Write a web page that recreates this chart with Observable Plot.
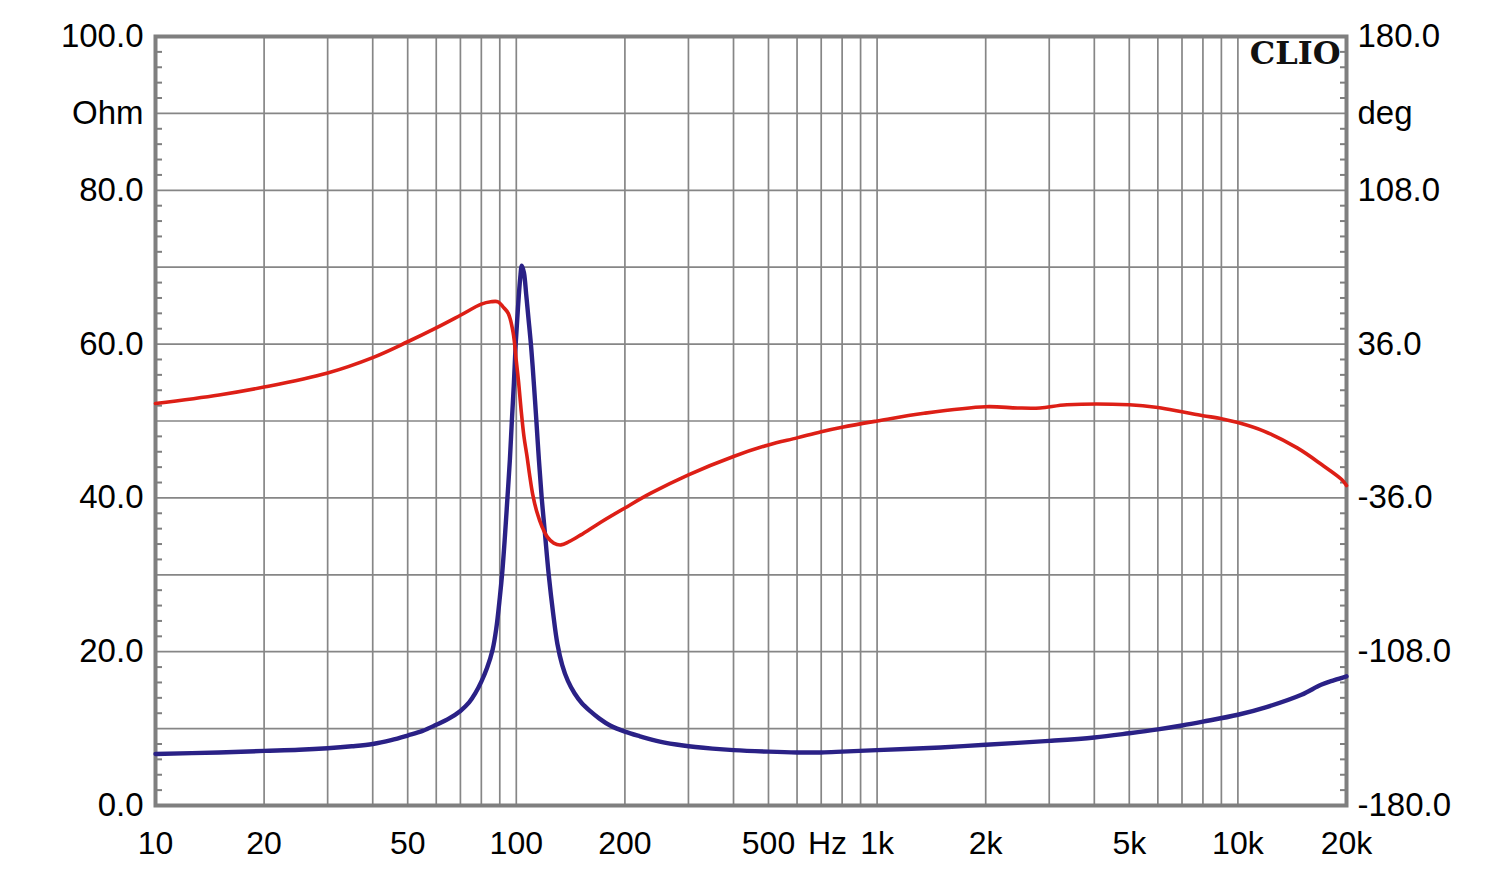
<!DOCTYPE html>
<html>
<head>
<meta charset="utf-8">
<script src="https://cdn.jsdelivr.net/npm/d3@7"></script>
<script src="https://cdn.jsdelivr.net/npm/@observablehq/plot@0.6"></script>
<style>
  html, body { margin: 0; padding: 0; background: #fff; }
  #chart { width: 1500px; height: 877px; }
</style>
</head>
<body>
<div id="chart"></div>
<script>
// ---- Data ----
// Impedance magnitude (Ohm, left axis) - blue curve
const blueFreq = [10, 15, 20, 25, 30, 35, 40, 45, 50, 55, 60, 65, 70, 74, 77, 80, 83, 86, 88, 90, 91.5, 93, 94.5, 96, 97.2, 98.5, 99.6, 101, 102.5, 103.6, 105, 106.5, 108, 110, 112, 113.5, 115.5, 117.6, 120, 123, 126.5, 130, 134, 139, 145, 152, 160, 170, 182, 200, 220, 250, 290, 350, 400, 500, 600, 700, 800, 1000, 1500, 2000, 3000, 4000, 5000, 6000, 7000, 8000, 10000, 12000, 15000, 17000, 18500, 20000];
const blueOhm = [6.7, 6.9, 7.1, 7.25, 7.45, 7.7, 8.0, 8.5, 9.1, 9.7, 10.5, 11.3, 12.3, 13.4, 14.6, 16.1, 17.9, 20.3, 23, 27, 30.5, 35, 40, 45, 50, 55, 60, 64.5, 68.5, 70.2, 69.3, 66.5, 63.5, 59.5, 54.5, 50.5, 45, 40, 35.5, 30, 25, 21, 18.3, 16.2, 14.6, 13.3, 12.3, 11.3, 10.4, 9.6, 9.0, 8.3, 7.8, 7.4, 7.2, 7.0, 6.9, 6.9, 7.0, 7.2, 7.55, 7.9, 8.4, 8.85, 9.4, 9.9, 10.4, 10.9, 11.8, 12.8, 14.4, 15.7, 16.3, 16.8];

// Impedance phase (deg, right axis) - red curve
const redFreq = [10, 15, 20, 30, 40, 50, 60, 70, 80, 85, 89, 92, 95, 98, 100, 101.5, 103, 105, 107, 109, 111, 114, 118, 122, 127, 133, 140, 151, 171, 200, 236, 300, 400, 500, 600, 700, 800, 1000, 1350, 2000, 2450, 2830, 3360, 5000, 6000, 7000, 8000, 9000, 10000, 11800, 14600, 17100, 19400, 20000];
const redDeg = [8.2, 12.2, 15.9, 22.5, 29.7, 37.1, 43.6, 49.5, 54.7, 55.8, 55.8, 53.3, 50.4, 41.4, 28.1, 18, 6.1, -7.2, -16.2, -25.9, -34.2, -42.5, -49.7, -54.4, -57.2, -58, -56.5, -53.3, -47.5, -40.7, -33.8, -25.2, -16.6, -11.2, -7.9, -5, -2.9, 0, 3.6, 6.7, 6.1, 6.1, 7.6, 7.6, 6.3, 4.3, 2.5, 1.1, -0.7, -4.7, -12.6, -20.5, -27.4, -30.2];

// Axis ticks and labels
const freqTicks = [10, 20, 50, 100, 200, 500, 1000, 2000, 5000, 10000, 20000];
const freqLabels = ["10", "20", "50", "100", "200", "500", "1k", "2k", "5k", "10k", "20k"];
const freqUnit = "Hz";
const gridFreqs = [10, 20, 30, 40, 50, 60, 70, 80, 90, 100, 200, 300, 400, 500, 600, 700, 800, 900, 1000, 2000, 3000, 4000, 5000, 6000, 7000, 8000, 9000, 10000, 20000];
const gridOhm = [0, 10, 20, 30, 40, 50, 60, 70, 80, 90, 100];
const minorOhm = [2, 4, 6, 8, 12, 14, 16, 18, 22, 24, 26, 28, 32, 34, 36, 38, 42, 44, 46, 48, 52, 54, 56, 58, 62, 64, 66, 68, 72, 74, 76, 78, 82, 84, 86, 88, 92, 94, 96, 98];
const leftTicks = [0, 20, 40, 60, 80, 90, 100];
const leftLabels = ["0.0", "20.0", "40.0", "60.0", "80.0", "Ohm", "100.0"];
const rightLabels = ["-180.0", "-108.0", "-36.0", "36.0", "108.0", "deg", "180.0"];
const brand = "CLIO";

// deg -> position on the shared 0..100 vertical scale (-180..180 deg)
const degToY = d => (d + 180) / 3.6;

const imp = blueFreq.map((f, i) => ({f, v: blueOhm[i]}));
const ph = redFreq.map((f, i) => ({f, deg: redDeg[i]}));

const gridColor = "#868686";
const frameColor = "#7f7f7f";

const chart = Plot.plot({
  width: 1500,
  height: 877,
  marginLeft: 155,
  marginRight: 154,
  marginTop: 36,
  marginBottom: 72,
  style: {fontFamily: "'Liberation Sans', Arial, sans-serif", background: "#fff", color: "#000"},
  x: {type: "log", domain: [10, 20000]},
  y: {domain: [0, 100]},
  marks: [
    Plot.gridX(gridFreqs, {stroke: gridColor, strokeOpacity: 1, strokeWidth: 1.7}),
    Plot.gridY(gridOhm, {stroke: gridColor, strokeOpacity: 1, strokeWidth: 1.7}),
    Plot.axisY(minorOhm, {anchor: "left", tickSize: -7, tickFormat: () => "", stroke: frameColor, strokeWidth: 2, label: null}),
    Plot.axisY(minorOhm, {anchor: "right", tickSize: -7, tickFormat: () => "", stroke: frameColor, strokeWidth: 2, label: null}),
    Plot.frame({stroke: frameColor, strokeWidth: 4}),
    Plot.axisX(freqTicks, {anchor: "bottom", tickSize: 0, tickPadding: 26, fontSize: 32, fill: "#000",
      tickFormat: d => freqLabels[freqTicks.indexOf(d)], label: null}),
    Plot.text([{f: 500, t: freqUnit}], {x: "f", y: () => 0, text: "t", dx: 59, dy: 38, fontSize: 32, fill: "#000"}),
    Plot.axisY(leftTicks, {anchor: "left", tickSize: 0, tickPadding: 12, fontSize: 33, fill: "#000",
      tickFormat: d => leftLabels[leftTicks.indexOf(d)], label: null}),
    Plot.axisY(leftTicks, {anchor: "right", tickSize: 0, tickPadding: 11, fontSize: 33, fill: "#000",
      tickFormat: d => rightLabels[leftTicks.indexOf(d)], label: null}),
    Plot.line(imp, {x: "f", y: "v", stroke: "#2a2186", strokeWidth: 4.4, curve: "catmull-rom"}),
    Plot.line(ph, {x: "f", y: d => degToY(d.deg), stroke: "#dd1f16", strokeWidth: 3.6, curve: "catmull-rom"}),
    Plot.text([brand], {frameAnchor: "top-right", dx: -6, dy: 5, lineAnchor: "top",
      fontFamily: "'DejaVu Serif', 'Liberation Serif', serif", fontWeight: "bold", fontSize: 32, fill: "#111"})
  ]
});
document.getElementById("chart").appendChild(chart);
</script>
</body>
</html>
